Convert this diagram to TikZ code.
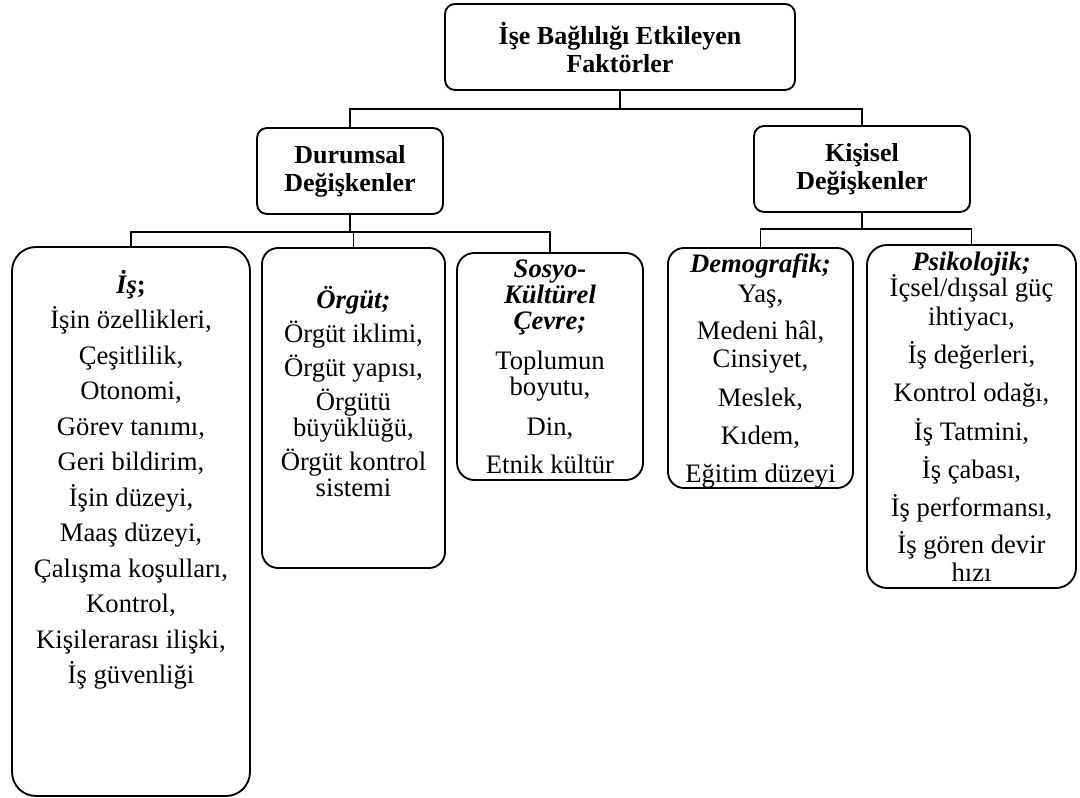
\documentclass[tikz,border=0pt]{standalone}
\usepackage{fontspec}
\setmainfont{Liberation Serif}
\begin{document}
\begin{tikzpicture}[x=0.75pt,y=-0.75pt,
  conn/.style={line width=1.4pt},
  hbox/.style={draw,line width=1.4pt,rounded corners=7.5pt,align=center,inner sep=0pt,
    font=\bfseries\fontsize{19.5}{21}\selectfont},
  cbox/.style={draw,line width=1.4pt,inner sep=0pt},
  btext/.style={align=center,inner sep=0pt,anchor=north,font=\fontsize{20}{21}\selectfont}]
\useasboundingbox (0,0) rectangle (1080,798);
% heading boxes
\node[hbox,minimum width=350*0.75pt,minimum height=86*0.75pt] (top) at (620,47)
  {İşe Bağlılığı Etkileyen\\Faktörler};
\node[hbox,minimum width=186*0.75pt,minimum height=86*0.75pt] (dur) at (350,171)
  {Durumsal\\Değişkenler};
\node[hbox,minimum width=216*0.75pt,minimum height=86*0.75pt] (kis) at (862,169)
  {Kişisel\\Değişkenler};
% content boxes
\node[cbox,rounded corners=18pt,minimum width=238*0.75pt,minimum height=549*0.75pt] (is) at (131,521.5) {};
\node[cbox,rounded corners=12pt,minimum width=183*0.75pt,minimum height=320*0.75pt] (org) at (353.5,408) {};
\node[cbox,rounded corners=13pt,minimum width=186*0.75pt,minimum height=227*0.75pt] (sos) at (550,366.5) {};
\node[cbox,rounded corners=12pt,minimum width=185*0.75pt,minimum height=240*0.75pt] (dem) at (760.5,368) {};
\node[cbox,rounded corners=15pt,minimum width=209*0.75pt,minimum height=343*0.75pt] (psi) at (971.5,416.5) {};
% texts
\node[btext,font=\fontsize{20}{26.6}\selectfont] (istext) at (131,270)
  {\textbf{\textit{İş};}\\İşin özellikleri,\\Çeşitlilik,\\Otonomi,\\Görev tanımı,\\Geri bildirim,\\İşin düzeyi,\\Maaş düzeyi,\\Çalışma koşulları,\\Kontrol,\\Kişilerarası ilişki,\\İş güvenliği};
\node[btext] (orgtext) at (353.5,286)
  {\textbf{\textit{Örgüt;}}\\[4.5pt]Örgüt iklimi,\\[4.5pt]Örgüt yapısı,\\[4.5pt]Örgütü\\[-1.5pt]büyüklüğü,\\[4.5pt]Örgüt kontrol\\[-1.5pt]sistemi};
\node[btext] (sostext) at (550,260)
  {\textbf{\textit{Sosyo-}}\\[-1.5pt]\textbf{\textit{Kültürel}}\\[-1.5pt]\textbf{\textit{Çevre;}}\\[9pt]Toplumun\\[-1.5pt]boyutu,\\[9pt]Din,\\[7.5pt]Etnik kültür};
\node[btext] (demtext) at (760.5,253)
  {\textbf{\textit{Demografik;}}\\[1.5pt]Yaş,\\[6.75pt]Medeni hâl,\\Cinsiyet,\\[8.25pt]Meslek,\\[7.5pt]Kıdem,\\[7.5pt]Eğitim düzeyi};
\node[btext] (psitext) at (971.5,252)
  {\textbf{\textit{Psikolojik;}}\\[-1.5pt]İçsel/dışsal güç\\[0.75pt]ihtiyacı,\\[7.5pt]İş değerleri,\\[7.5pt]Kontrol odağı,\\[8.25pt]İş Tatmini,\\[7.5pt]İş çabası,\\[7.5pt]İş performansı,\\[6.75pt]İş gören devir\\hızı};
% connectors
\draw[conn] (top.south) -- ++(0,18) coordinate (j0) -| (dur.north);
\draw[conn] (j0) -| (kis.north);
\draw[conn] (dur.south) -- ++(0,17) coordinate (j1) -| (is.north);
\draw[conn] (j1) -| (org.north);
\draw[conn] (j1) -| (sos.north);
\draw[conn] (kis.south) -- ++(0,16) coordinate (j2) -| (dem.north);
\draw[conn] (j2) -| (psi.north);
\end{tikzpicture}
\end{document}
